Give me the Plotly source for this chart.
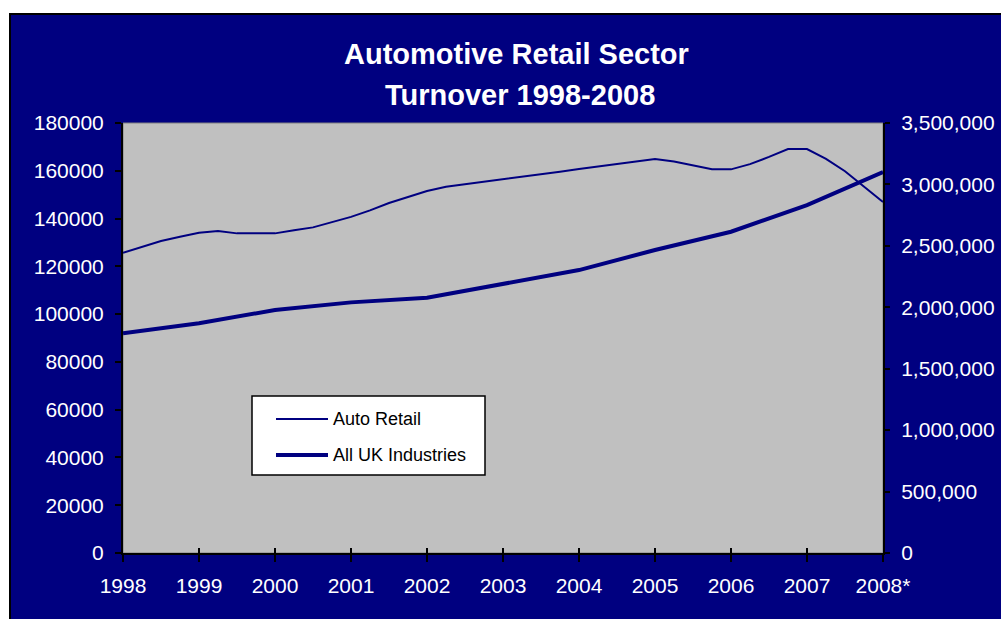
import plotly.graph_objects as go

# ---- data -------------------------------------------------------------
# Quarterly periods (decimal years) for the automotive retail series
auto_periods = [
    1998.00, 1998.25, 1998.50, 1998.75,
    1999.00, 1999.25, 1999.50, 1999.75,
    2000.00, 2000.25, 2000.50, 2000.75,
    2001.00, 2001.25, 2001.50, 2001.75,
    2002.00, 2002.25, 2002.50, 2002.75,
    2003.00, 2003.25, 2003.50, 2003.75,
    2004.00, 2004.25, 2004.50, 2004.75,
    2005.00, 2005.25, 2005.50, 2005.75,
    2006.00, 2006.25, 2006.50, 2006.75,
    2007.00, 2007.25, 2007.50, 2007.75,
    2008.00,
]
auto_retail = [
    125700, 128300, 130600, 132400,
    134100, 134800, 133800, 133800,
    133800, 135100, 136300, 138500,
    140700, 143400, 146500, 149000,
    151500, 153300, 154300, 155400,
    156400, 157500, 158600, 159600,
    160700, 161700, 162800, 163900,
    164900, 163900, 162300, 160600,
    160600, 162800, 165800, 169100,
    169100, 165000, 159800, 153300,
    146900,
]

years = [1998, 1999, 2000, 2001, 2002, 2003, 2004, 2005, 2006, 2007, 2008]
year_labels = ["1998", "1999", "2000", "2001", "2002", "2003",
               "2004", "2005", "2006", "2007", "2008*"]
all_uk = [1788000, 1870000, 1978000, 2040000, 2078000, 2190000,
          2303000, 2466000, 2615000, 2832000, 3101000]

series_names = ["Auto Retail", "All UK Industries"]

# ---- styling ----------------------------------------------------------
W, H = 1001, 619
PL, PR, PT, PB = 123, 883, 123, 553          # plot-area pixel box
NAVY = "#000080"
GREY = "#C0C0C0"
FONT = "Arial, Liberation Sans, sans-serif"
LINE_WIDTHS = [2, 4]


def px_x(p):
    return (p - PL) / (PR - PL)


def px_y(p):
    return (PB - p) / (PB - PT)


fig = go.Figure()

fig.add_trace(go.Scatter(
    x=auto_periods, y=auto_retail, name=series_names[0],
    mode="lines", line=dict(color=NAVY, width=LINE_WIDTHS[0]),
    xaxis="x", yaxis="y", showlegend=False,
))
fig.add_trace(go.Scatter(
    x=years, y=all_uk, name=series_names[1],
    mode="lines", line=dict(color=NAVY, width=LINE_WIDTHS[1]),
    xaxis="x2", yaxis="y2", showlegend=False,
))

tick_font = dict(family=FONT, size=21, color="white")

fig.update_layout(
    width=W, height=H,
    margin=dict(l=PL, r=W - PR, t=PT, b=H - PB, pad=0),
    paper_bgcolor="white",
    plot_bgcolor=GREY,
    font=dict(family=FONT),
    xaxis=dict(
        range=[1998, 2008], tickmode="array", tickvals=years,
        ticktext=year_labels, tickfont=tick_font,
        ticks="outside", ticklen=7, tickwidth=2, tickcolor="black",
        ticklabelstandoff=6, automargin=False,
        showline=True, linecolor="black", linewidth=2,
        showgrid=False, zeroline=False, fixedrange=True,
    ),
    xaxis2=dict(
        range=[1998, 2008], overlaying="x", anchor="y2", side="bottom",
        tickmode="array", tickvals=years, showticklabels=False,
        ticks="inside", ticklen=5, tickwidth=2, tickcolor="black",
        automargin=False,
        showline=False, showgrid=False, zeroline=False,
    ),
    yaxis=dict(
        range=[0, 180000], dtick=20000, tickformat="d",
        tickfont=tick_font, ticks="outside", ticklen=6, tickwidth=2,
        tickcolor="black", ticklabelstandoff=7, automargin=False,
        showline=True, linecolor="black", linewidth=2,
        showgrid=False, zeroline=False,
    ),
    yaxis2=dict(
        range=[0, 3500000], dtick=500000, tickformat=",d",
        overlaying="y", side="right", anchor="x",
        tickfont=tick_font, ticks="outside", ticklen=5, tickwidth=2,
        tickcolor="black", ticklabelstandoff=7, automargin=False,
        showline=True, linecolor="black", linewidth=2,
        showgrid=False, zeroline=False,
    ),
    showlegend=False,
)

# navy chart panel with black frame, then the grey plot area on top of it
fig.add_shape(type="rect", xref="paper", yref="paper", layer="below",
              x0=px_x(10), x1=px_x(W + 10), y0=px_y(H + 10), y1=px_y(14),
              fillcolor=NAVY, line=dict(color="black", width=2))
fig.add_shape(type="rect", xref="paper", yref="paper", layer="below",
              x0=0, x1=1, y0=0, y1=1,
              fillcolor=GREY, line=dict(color="#808080", width=1))

# two-line title
title_font = dict(family=FONT, size=29, color="white")
fig.add_annotation(text="<b>Automotive Retail Sector</b>", xref="paper",
                   yref="paper", x=px_x(516), y=px_y(54), xanchor="center",
                   yanchor="middle", showarrow=False, font=title_font)
fig.add_annotation(text="<b>Turnover 1998-2008</b>", xref="paper",
                   yref="paper", x=px_x(520), y=px_y(95), xanchor="center",
                   yanchor="middle", showarrow=False, font=title_font)

# legend key: framed white box with a line sample and a label per series
fig.add_shape(type="rect", xref="paper", yref="paper",
              x0=px_x(252), x1=px_x(485), y0=px_y(475), y1=px_y(396),
              fillcolor="white", line=dict(color="black", width=1.5))
for row_y, name, lw in zip([419, 455], series_names, LINE_WIDTHS):
    fig.add_shape(type="line", xref="paper", yref="paper",
                  x0=px_x(276), x1=px_x(328), y0=px_y(row_y), y1=px_y(row_y),
                  line=dict(color=NAVY, width=lw))
    fig.add_annotation(text=name, xref="paper", yref="paper",
                       x=px_x(331), y=px_y(row_y), xanchor="left",
                       yanchor="middle", showarrow=False,
                       font=dict(family=FONT, size=18, color="black"))

fig.write_html("out.html")
